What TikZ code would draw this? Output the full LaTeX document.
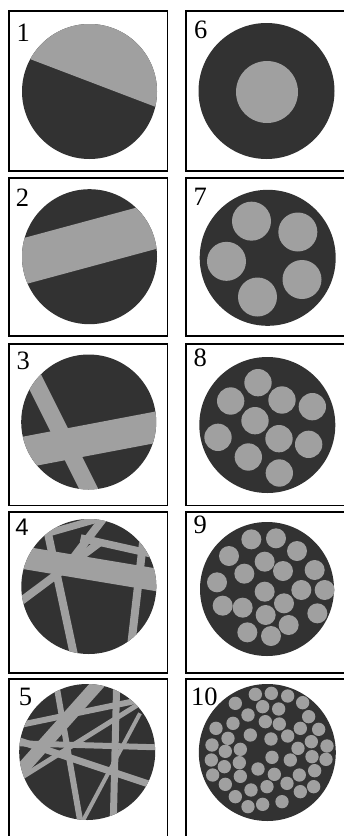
\documentclass[tikz,border=0pt]{standalone}
\usepackage{fontspec}
\setmainfont{Liberation Serif}
\newfontfamily\lsans{Liberation Sans}
\usetikzlibrary{calc}
\definecolor{darkc}{RGB}{50,50,50}
\definecolor{lightc}{RGB}{160,160,160}
\tikzset{
 frame/.style={draw=black, line width=1.6pt},
 disc/.style={fill=darkc},
 spot/.style={fill=lightc},
 fibrestyle/.style={draw=lightc, line cap=butt},
 lab/.style={anchor=base west, inner sep=0pt, outer sep=0pt, font=\fontsize{26.5}{26.5}\selectfont},
}
% chord through two points, extended past the disc
\newcommand\fibre[3]{\draw[fibrestyle, line width=#1pt] ($(#2)!-1!(#3)$) -- ($(#3)!-1!(#2)$);}
% finite fibre segment
\newcommand\fibreseg[3]{\draw[fibrestyle, line width=#1pt] (#2) -- (#3);}
\begin{document}
\begin{tikzpicture}[x=1pt,y=-1pt]
\useasboundingbox (0,0) rectangle (344,836);
% frames
\foreach \t/\b in {11/171, 178/336, 344/505.5, 512/673, 679/850} {
 \draw[frame] (9,\t) rectangle (167.5,\b);
 \draw[frame] (186,\t) rectangle (352,\b);
}
% ---------- panel 1
\fill[disc] (89.5,91.5) circle[radius=67.5pt];
\begin{scope}
\clip (89.5,91.5) circle[radius=67.5pt];
\fill[spot] (0,47.6) -- (180,116.2) -- (180,0) -- (0,0) -- cycle;
\end{scope}
% ---------- panel 2
\fill[disc] (89.5,256.7) circle[radius=67.5pt];
\begin{scope}
\clip (89.5,256.7) circle[radius=67.5pt];
\fibre{45}{0,267.75}{180,219.15}
\end{scope}
% ---------- panel 3
\fill[disc] (88.7,422) circle[radius=67.5pt];
\begin{scope}
\clip (88.7,422) circle[radius=67.5pt];
\begin{scope}[shift={(0,330)}, scale=1/3]
\fibre{17}{16.75,-22}{316.75,578}
\fibre{31}{68,367.5}{462,292.7}
\end{scope}
\end{scope}
% ---------- panel 4
\fill[disc] (88.8,586.5) circle[radius=67.5pt];
\begin{scope}
\clip (88.8,586.5) circle[radius=67.5pt];
\begin{scope}[shift={(10,512)}, scale=1/3]
\fibre{22.5}{40,137}{430,202}
\fibre{8}{112,55}{190,420}
\fibreseg{8}{295,0}{165,170}
\fibreseg{8}{0,292}{268,92}
\fibreseg{7.5}{212,78}{480,138}
\fibreseg{7}{112,64}{330,2}
\fibre{8}{363,404}{397,110}
\end{scope}
\end{scope}
% ---------- panel 5
\fill[disc] (87.2,752) circle[radius=68pt];
\begin{scope}
\clip (87.2,752) circle[radius=68pt];
\begin{scope}[shift={(0,660)}, scale=1/3]
\fibre{13}{55,340}{300,65}
\fibre{6}{170,80}{240,480}
\fibre{7}{350,70}{340,480}
\fibre{6}{55,250}{475,262}
\fibre{6}{60,195}{420,120}
\fibre{5}{100,330}{420,130}
\fibre{7}{170,280}{470,380}
\fibre{4}{335,320}{250,480}
\end{scope}
\end{scope}
% ---------- panel 6
\fill[disc] (266.5,91) circle[radius=68pt];
\fill[spot] (267,92) circle[radius=31pt];
% ---------- panel 7
\fill[disc] (267.7,257.8) circle[radius=68pt];
\begin{scope}[shift={(172,165)}, scale=1/3]
\foreach \p in {(238.5,168.5),(377.5,201),(163.5,289),(390,343.5),(256.5,396)}
 \fill[spot] \p circle[radius=58.5];
\end{scope}
% ---------- panel 8
\fill[disc] (267.3,425) circle[radius=68pt];
\begin{scope}[shift={(172,330)}, scale=1/3]
\foreach \p in {(258,158),(176,213),(330,210),(421,230),(249,272),(138,322),(321,326),(410,343),(229,381),(322,429)}
 \fill[spot] \p circle[radius=41];
\end{scope}
% ---------- panel 9
\fill[disc] (267,589) circle[radius=67pt];
\begin{scope}[shift={(172,495)}, scale=1/3]
\foreach \p in {(238,133),(312,130),(375,168),(171,183),(278,200),(217,236),(333,228),(428,225),(135,262),(278,290),(388,285),(458,285),(152,332),(212,338),(336,325),(281,360),(436,355),(350,390),(226,412),(297,423)}
 \fill[spot] \p circle[radius=30];
\end{scope}
% ---------- panel 10
\fill[disc] (267.3,752.5) circle[radius=68.5pt];
\begin{scope}[shift={(172,660)}, scale=1/3]
\foreach \p in {(250,103),(298,100),(347,108),(190,130),(392,128),(272,140),(320,147),(228,165),(410,170),(183,190),(280,185),(322,192),(132,205),(385,205),(440,208),(235,225),(297,237),(347,228),(168,235),(418,245),(120,255),(465,258),(205,268),(160,274),(378,265),(118,300),(202,308),(300,292),(355,300),(420,290),(462,298),(157,320),(258,327),(122,345),(205,349),(307,343),(382,345),(428,332),(160,373),(345,370),(237,390),(285,380),(425,380),(385,395),(190,410),(228,440),(272,433),(330,425)}
 \fill[spot] \p circle[radius=20];
\end{scope}
% ---------- labels
\node[lab] (l1) at (16.5,41.7) {1};
\node[lab] (l2) at (16,206.7) {2};
\node[lab] (l3) at (16.5,369) {3};
\node[lab,font=\fontsize{24}{24}\selectfont\lsans] (l4) at (15.5,535) {4};
\node[lab] (l5) at (19,705) {5};
\node[lab] (l6) at (194,38.3) {6};
\node[lab] (l7) at (193.5,205) {7};
\node[lab] (l8) at (193.5,366.7) {8};
\node[lab] (l9) at (193.5,533) {9};
\node[lab] (l10) at (191,705) {10};
\end{tikzpicture}
\end{document}
